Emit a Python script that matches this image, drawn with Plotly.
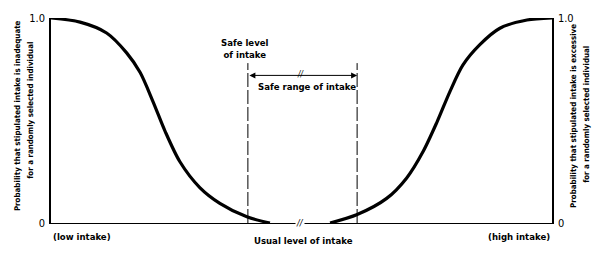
import plotly.graph_objects as go

# Intake scale: 0 = low intake (left axis), 100 = high intake (right axis)
left_x = [0, 5.8, 11.1, 15.1, 17.8, 20.4, 22.8, 25.7, 29.7, 33.7, 39.1, 43.7]
left_p = [1.0, 0.98, 0.927, 0.83, 0.734, 0.59, 0.446, 0.30, 0.173, 0.096, 0.03, 0.0]
right_x = [55.7, 61.0, 67.0, 71.0, 74.3, 77.0, 79.6, 82.2, 85.6, 89.6, 95.0, 100]
right_p = [0.0, 0.04, 0.12, 0.22, 0.35, 0.49, 0.64, 0.77, 0.87, 0.95, 0.99, 1.0]

safe_level = 39.3
safe_upper = 61.1
break_x = 49.7
dash_top = 0.78
arrow_y = 0.72

tick_vals = [0, 1]
tick_text = ["0", "1.0"]

left_title = ["Probability that stipulated intake is inadequate",
              "for a randomly selected individual"]
right_title = ["Probability that stipulated intake is excessive",
               "for a randomly selected individual"]

FONT = "DejaVu Sans Condensed, Arial Narrow, Roboto, sans-serif"

fig = go.Figure()
fig.add_trace(go.Scatter(x=left_x, y=left_p, mode="lines",
                         line=dict(color="black", width=3.2, shape="spline", smoothing=0.8),
                         hoverinfo="skip", showlegend=False))
fig.add_trace(go.Scatter(x=right_x, y=right_p, mode="lines",
                         line=dict(color="black", width=3.2, shape="spline", smoothing=0.8),
                         hoverinfo="skip", showlegend=False, yaxis="y2"))

for xv in [safe_level, safe_upper]:
    fig.add_shape(type="line", x0=xv, x1=xv, y0=0, y1=dash_top, xref="x", yref="y",
                  line=dict(color="black", width=1, dash="14px,3px"))

# Double-headed arrow for safe range
fig.add_annotation(x=safe_upper, y=arrow_y, ax=safe_level, ay=arrow_y,
                   xref="x", yref="y", axref="x", ayref="y", text="",
                   showarrow=True, arrowhead=2, startarrowhead=2, arrowside="end+start",
                   arrowsize=1.2, startarrowsize=1.2, arrowwidth=1, arrowcolor="black")

font = dict(family=FONT, size=9.5, color="black")
fig.add_annotation(x=break_x, y=arrow_y, text="<i>//</i>", showarrow=False,
                   font=dict(family=FONT, size=8, color="black"), yshift=1)
fig.add_annotation(x=break_x, y=0, text="<i>//</i>", showarrow=False,
                   font=dict(family=FONT, size=9, color="black"), bgcolor="white", borderpad=0)
fig.add_annotation(x=(safe_level + safe_upper) / 2 + 0.8, y=arrow_y, text="<b>Safe range of intake</b>",
                   showarrow=False, font=font, yshift=-11)
fig.add_annotation(x=safe_level - 0.6, y=dash_top, text="<b>Safe level<br>of intake</b>",
                   showarrow=False, font=font, yanchor="bottom", yshift=1)
fig.add_annotation(x=break_x + 0.6, y=0, text="<b>Usual level of intake</b>",
                   showarrow=False, font=font, yanchor="top", yshift=-10)
fig.add_annotation(x=0, y=0, text="<b>(low intake)</b>", showarrow=False, font=font,
                   xanchor="left", yanchor="top", yshift=-6)
fig.add_annotation(x=100, y=0, text="<b>(high intake)</b>", showarrow=False, font=font,
                   xanchor="right", yanchor="top", yshift=-6)

title_font = dict(family=FONT, size=7.9, color="black")
for txt, ypos, xs in zip(left_title, [0.524, 0.55], [-40, -27]):
    fig.add_annotation(xref="paper", yref="paper", x=0, y=ypos, xshift=xs,
                       text=f"<b>{txt}</b>", textangle=-90, showarrow=False, font=title_font)
for txt, ypos, xs in zip(right_title, [0.52, 0.53], [28, 41]):
    fig.add_annotation(xref="paper", yref="paper", x=1, y=ypos, xshift=xs,
                       text=f"<b>{txt}</b>", textangle=-90, showarrow=False, font=title_font)

tick_font = dict(family=FONT, size=11, color="black")
fig.update_layout(
    width=600, height=256,
    margin=dict(l=51, r=48, t=14, b=33),
    paper_bgcolor="white", plot_bgcolor="white",
    xaxis=dict(range=[0, 100], showgrid=False, zeroline=False, showticklabels=False,
               showline=True, linecolor="black", linewidth=1, ticks=""),
    yaxis=dict(range=[0, 1], tickvals=tick_vals, ticktext=tick_text, showgrid=False,
               zeroline=False, showline=True, linecolor="black", linewidth=1.5, ticks="",
               tickfont=tick_font, ticklabelstandoff=2),
    yaxis2=dict(range=[0, 1], tickvals=tick_vals, ticktext=tick_text, overlaying="y", side="right",
                showgrid=False, zeroline=False, showline=True, linecolor="black", linewidth=1.5,
                ticks="", tickfont=tick_font, ticklabelstandoff=2),
    showlegend=False,
)

fig.write_html("out.html")
